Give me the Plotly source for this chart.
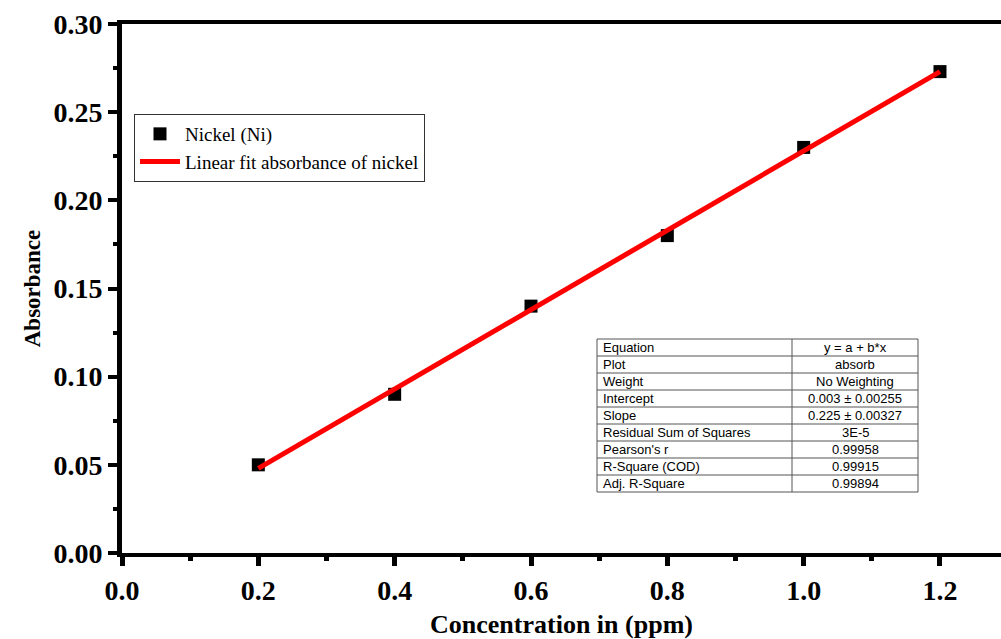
import plotly.graph_objects as go

# Measured absorbance of nickel standards
concentration = [0.2, 0.4, 0.6, 0.8, 1.0, 1.2]
absorbance = [0.05, 0.09, 0.14, 0.18, 0.23, 0.273]

# Linear fit parameters (y = a + b*x)
fit_intercept = 0.003
fit_slope = 0.225
fit_x = [concentration[0], concentration[-1]]
fit_y = [fit_intercept + fit_slope * x for x in fit_x]

# Fit summary table
table_labels = ["Equation", "Plot", "Weight", "Intercept", "Slope",
                "Residual Sum of Squares", "Pearson's r", "R-Square (COD)",
                "Adj. R-Square"]
table_values = ["y = a + b*x", "absorb", "No Weighting", "0.003 \u00b1 0.00255",
                "0.225 \u00b1 0.00327", "3E-5", "0.99958", "0.99915", "0.99894"]

x_ticks = [0.0, 0.2, 0.4, 0.6, 0.8, 1.0, 1.2]
y_ticks = [0.00, 0.05, 0.10, 0.15, 0.20, 0.25, 0.30]

W, H = 1001, 639
ML, MR, MT, MB = 122, 0, 24, 86
PW, PH = W - ML - MR, H - MT - MB

serif = "Liberation Serif"
sans = "Liberation Sans"

fig = go.Figure()
fig.add_trace(go.Scatter(
    x=concentration, y=absorbance, mode="markers", name="Nickel (Ni)",
    marker=dict(symbol="square", size=13, color="black"),
))
fig.add_trace(go.Scatter(
    x=fit_x, y=fit_y, mode="lines", name="Linear fit absorbance of nickel",
    line=dict(color="#ff0000", width=5),
))


def px_x(p):
    return (p - ML) / PW


def px_y(p):
    return (H - MB - p) / PH


# Table geometry in pixels
t_left, t_mid, t_right = 597, 792, 918
t_top, row_h = 339, 17
n_rows = len(table_labels)
t_bottom = t_top + row_h * n_rows
border = "#555555"

shapes = [dict(type="rect", xref="paper", yref="paper",
               x0=px_x(t_left), x1=px_x(t_right), y0=px_y(t_bottom), y1=px_y(t_top),
               line=dict(color=border, width=1), fillcolor="white", layer="above")]
shapes.append(dict(type="line", xref="paper", yref="paper",
                   x0=px_x(t_mid), x1=px_x(t_mid), y0=px_y(t_bottom), y1=px_y(t_top),
                   line=dict(color=border, width=1), layer="above"))
for i in range(1, n_rows):
    yy = px_y(t_top + i * row_h)
    shapes.append(dict(type="line", xref="paper", yref="paper",
                       x0=px_x(t_left), x1=px_x(t_right), y0=yy, y1=yy,
                       line=dict(color=border, width=1), layer="above"))

annotations = []
for i, (lab, val) in enumerate(zip(table_labels, table_values)):
    yc = px_y(t_top + (i + 0.5) * row_h)
    annotations.append(dict(x=px_x(t_left + 4), y=yc, xref="paper", yref="paper",
                            text=lab, showarrow=False, xanchor="left", yanchor="middle",
                            font=dict(family=sans, size=13, color="black")))
    annotations.append(dict(x=px_x((t_mid + t_right) / 2), y=yc, xref="paper", yref="paper",
                            text=val, showarrow=False, xanchor="center", yanchor="middle",
                            font=dict(family=sans, size=13, color="black")))

fig.update_layout(
    width=W, height=H,
    margin=dict(l=ML, r=MR, t=MT, b=MB),
    paper_bgcolor="white", plot_bgcolor="white",
    showlegend=True,
    legend=dict(x=px_x(134), y=px_y(114), xanchor="left", yanchor="top",
                bordercolor="#333333", borderwidth=1, bgcolor="white",
                font=dict(family=serif, size=19, color="black"),
                tracegroupgap=0, itemwidth=40),
    shapes=shapes,
    annotations=annotations,
)

fig.update_xaxes(
    range=[0, 1.2895], tickvals=x_ticks, ticktext=[f"{v:.1f}" for v in x_ticks],
    showgrid=False, zeroline=False,
    showline=True, linecolor="black", linewidth=4, mirror=True,
    ticks="outside", ticklen=9, tickwidth=5, tickcolor="black",
    minor=dict(ticks="outside", ticklen=4, tickwidth=5, tickcolor="black", dtick=0.1),
    tickfont=dict(family=serif, size=28, color="black", weight="bold"),
    title=dict(text="Concentration in (ppm)", standoff=14,
               font=dict(family=serif, size=26, color="black", weight="bold")),
)
fig.update_yaxes(
    range=[0, 0.30], tickvals=y_ticks, ticktext=[f"{v:.2f}" for v in y_ticks],
    showgrid=False, zeroline=False,
    showline=True, linecolor="black", linewidth=5, mirror=False,
    ticks="outside", ticklen=9, tickwidth=4, tickcolor="black",
    minor=dict(ticks="outside", ticklen=4, tickwidth=4, tickcolor="black", dtick=0.025),
    tickfont=dict(family=serif, size=28, color="black", weight="bold"),
    title=dict(text="Absorbance", standoff=8,
               font=dict(family=serif, size=23, color="black", weight="bold")),
)

fig.write_html("out.html")
